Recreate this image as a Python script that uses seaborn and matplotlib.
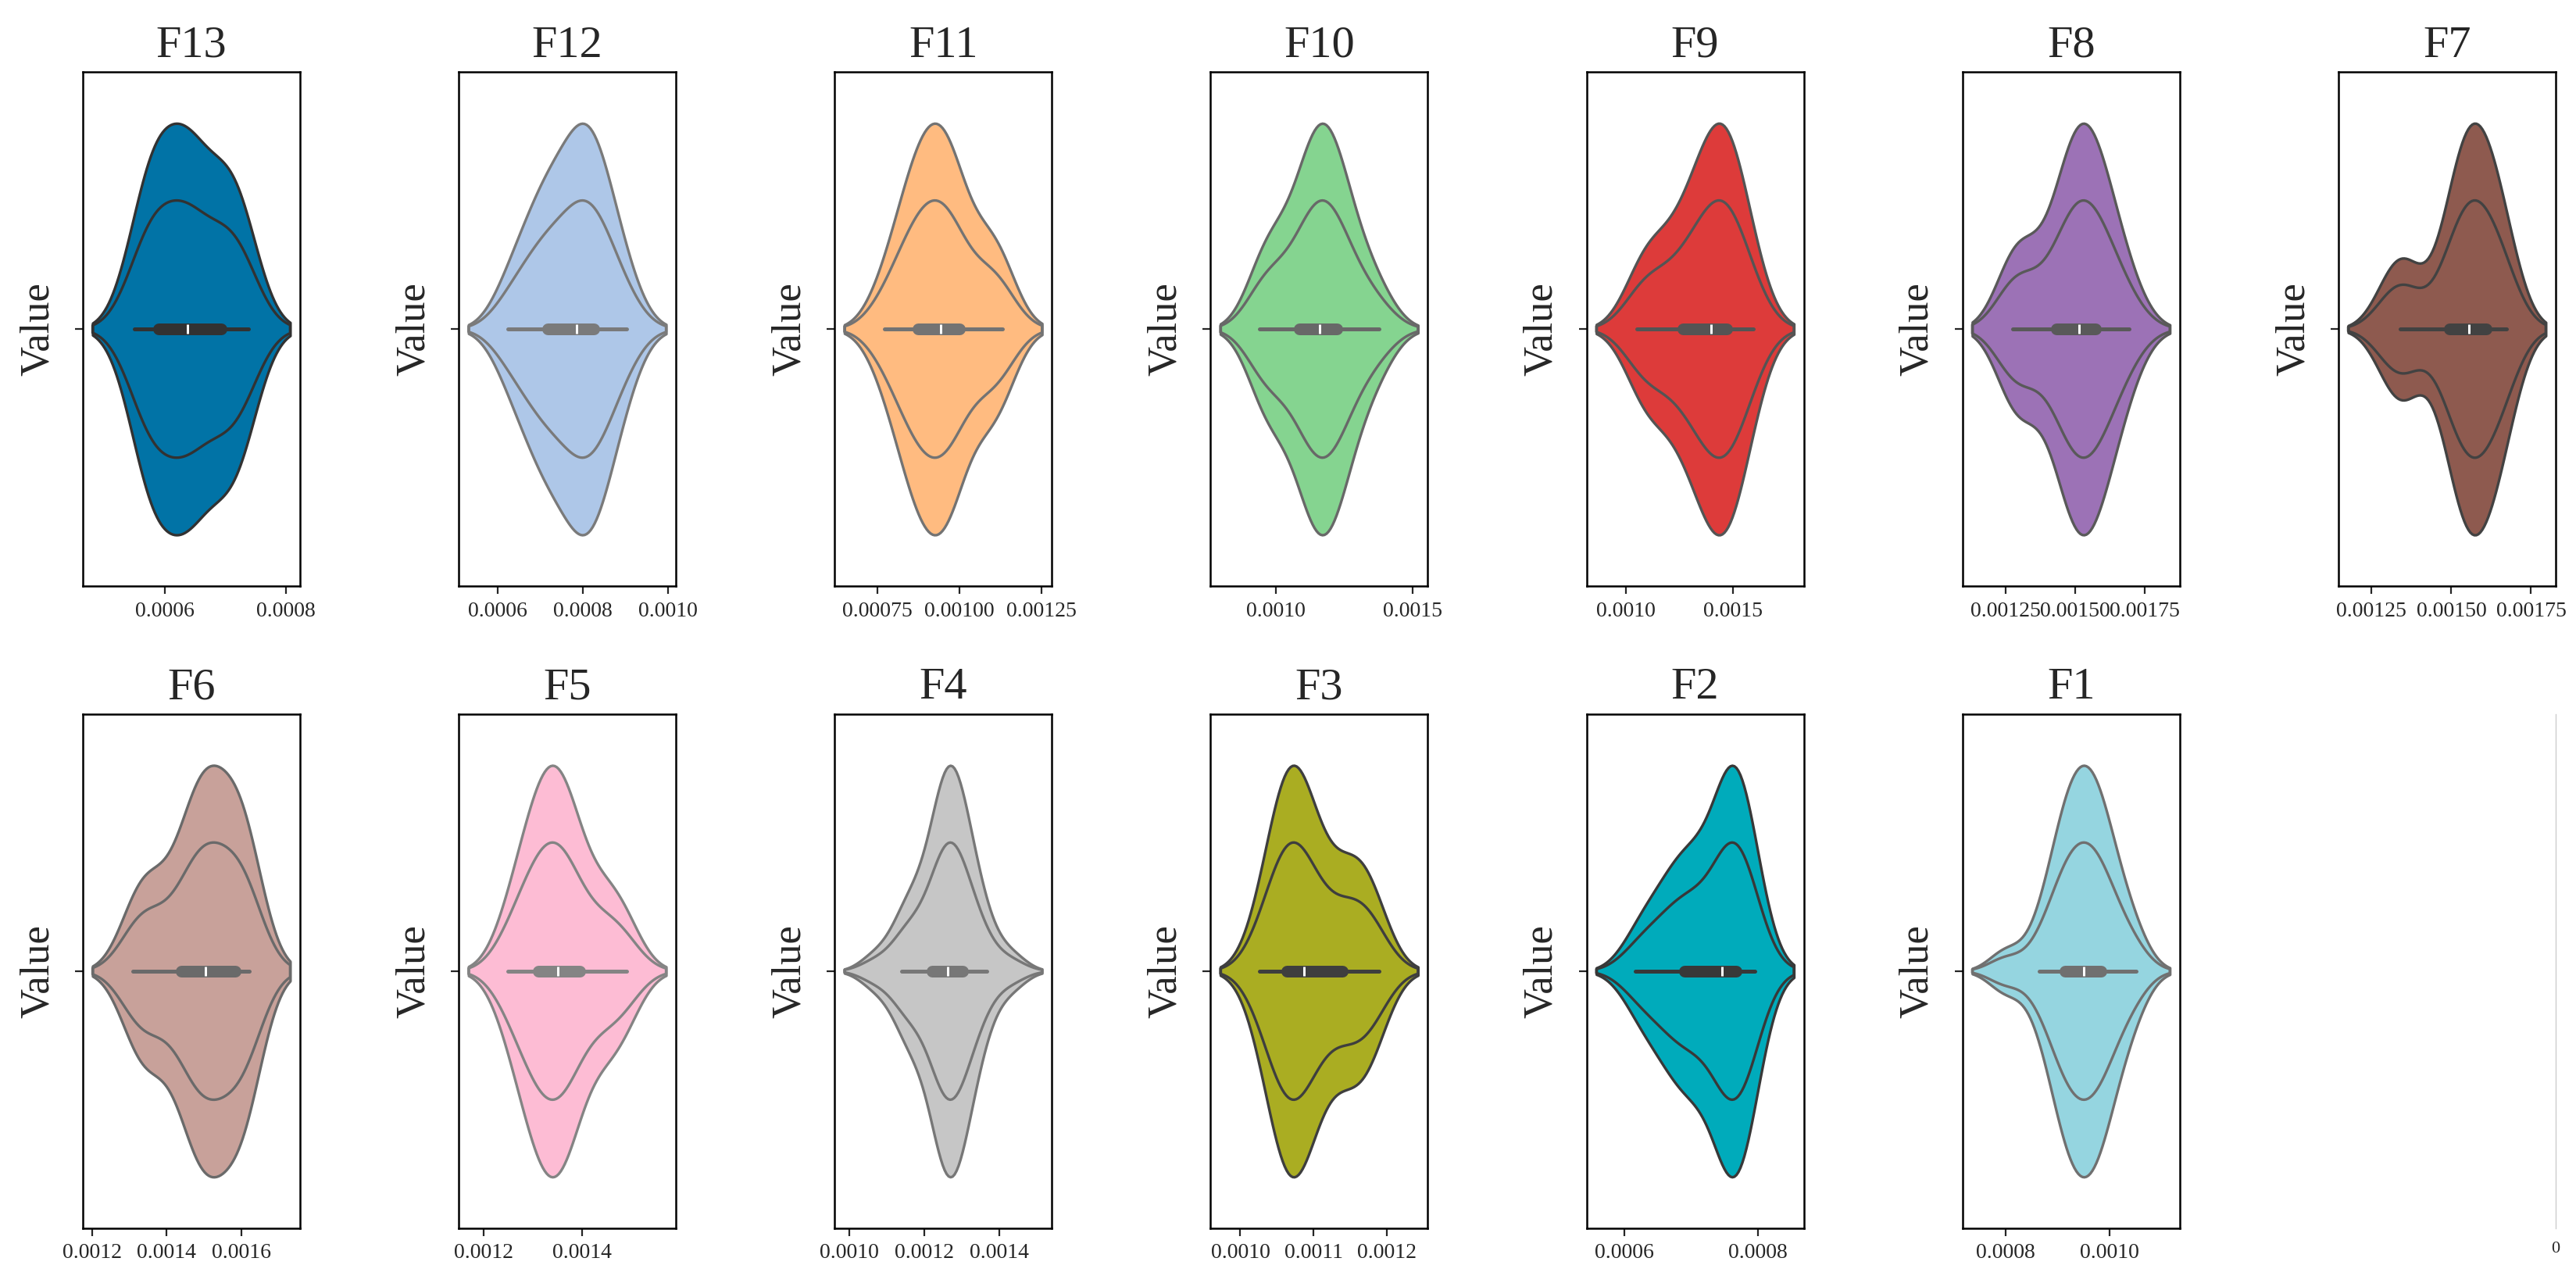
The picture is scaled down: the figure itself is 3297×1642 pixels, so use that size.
import colorsys
import matplotlib
matplotlib.use("Agg")
import matplotlib.pyplot as plt
import matplotlib.colors as mcolors
import seaborn as sns

f13 = [0.000550, 0.000572, 0.000580, 0.000586, 0.000594, 0.000622, 0.000630, 0.000638,
       0.000645, 0.000660, 0.000685, 0.000700, 0.000712, 0.000722, 0.000738]
f12 = [0.000623, 0.000660, 0.000690, 0.000712, 0.000722, 0.000745, 0.000768, 0.000784,
       0.000795, 0.000808, 0.000820, 0.000832, 0.000845, 0.000870, 0.000903]
f11 = [0.000771, 0.000820, 0.000850, 0.000868, 0.000880, 0.000905, 0.000925, 0.000942,
       0.000955, 0.000970, 0.000990, 0.001010, 0.001080, 0.001105, 0.001130]
f10 = [0.000940, 0.000975, 0.001000, 0.001070, 0.001105, 0.001120, 0.001145, 0.001162,
       0.001180, 0.001192, 0.001205, 0.001240, 0.001260, 0.001310, 0.001378]
f9 = [0.001050, 0.001110, 0.001150, 0.001245, 0.001285, 0.001320, 0.001360, 0.001397,
      0.001425, 0.001445, 0.001460, 0.001482, 0.001500, 0.001545, 0.001594]
f8 = [0.001276, 0.001290, 0.001310, 0.001410, 0.001458, 0.001470, 0.001495, 0.001514,
      0.001528, 0.001540, 0.001560, 0.001590, 0.001605, 0.001640, 0.001695]
f7 = [0.001300, 0.001340, 0.001352, 0.001362, 0.001485, 0.001498, 0.001515, 0.001530,
      0.001542, 0.001552, 0.001560, 0.001568, 0.001577, 0.001586, 0.001605, 0.001620,
      0.001636, 0.001652, 0.001665, 0.001673]
f6 = [0.001310, 0.001330, 0.001348, 0.001362, 0.001420, 0.001445, 0.001466, 0.001478,
      0.001488, 0.001498, 0.001510, 0.001520, 0.001532, 0.001545, 0.001580, 0.001590,
      0.001600, 0.001610, 0.001618, 0.001622]
f5 = [0.001249, 0.001275, 0.001295, 0.001305, 0.001317, 0.001332, 0.001342, 0.001350,
      0.001358, 0.001368, 0.001385, 0.001403, 0.001440, 0.001462, 0.001490]
f4 = [0.001070, 0.001140, 0.001150, 0.001160, 0.001180, 0.001210, 0.001222, 0.001232,
      0.001242, 0.001250, 0.001256, 0.001261, 0.001264, 0.001268, 0.001273, 0.001278,
      0.001284, 0.001292, 0.001302, 0.001310, 0.001318, 0.001332, 0.001350, 0.001368,
      0.001432]
f3 = [0.001026, 0.001040, 0.001050, 0.001056, 0.001060, 0.001065, 0.001070, 0.001074,
      0.001078, 0.001083, 0.001090, 0.001098, 0.001108, 0.001120, 0.001135, 0.001150,
      0.001158, 0.001166, 0.001176, 0.001189]
f2 = [0.000616, 0.000636, 0.000655, 0.000672, 0.000685, 0.000692, 0.000700, 0.000712,
      0.000728, 0.000740, 0.000752, 0.000756, 0.000760, 0.000763, 0.000766, 0.000770,
      0.000775, 0.000781, 0.000788, 0.000796]
f1 = [0.000800, 0.000864, 0.000885, 0.000900, 0.000910, 0.000916, 0.000922, 0.000930,
      0.000938, 0.000945, 0.000955, 0.000960, 0.000965, 0.000972, 0.000982, 0.000988,
      0.000996, 0.001010, 0.001028, 0.001051]

features = ["F13", "F12", "F11", "F10", "F9", "F8", "F7",
            "F6", "F5", "F4", "F3", "F2", "F1"]
values = [f13, f12, f11, f10, f9, f8, f7, f6, f5, f4, f3, f2, f1]
colors = ["#0173a6", "#aec7e8", "#ffbb80", "#85d490", "#dd3b3a", "#9c72b6", "#8e5a4f",
          "#c8a19a", "#fdbcd4", "#c6c6c6", "#aaad22", "#00abbb", "#95d5e0"]


def edge_gray(c):
    # same rule seaborn uses for its automatic line colour
    r, g, b = mcolors.to_rgb(c)
    lum = colorsys.rgb_to_hls(r, g, b)[1] * 0.6
    return (lum, lum, lum)


sns.set_theme(style="ticks")
plt.rcParams["font.family"] = ["Liberation Serif", "DejaVu Serif"]
plt.rcParams["axes.linewidth"] = 0.9
plt.rcParams["axes.edgecolor"] = "black"

fig, axes = plt.subplots(2, 7, figsize=(16.49, 8.21), dpi=200)
fig.subplots_adjust(left=0.0321, right=0.9918, top=0.944, bottom=0.0426,
                    wspace=0.73, hspace=0.248)

for i, ax in enumerate(axes.flat):
    if i >= len(features):
        # empty last slot: only a faint edge and a lone tick label
        for side in ["top", "left", "bottom"]:
            ax.spines[side].set_visible(False)
        ax.spines["right"].set_color("#cccccc")
        ax.spines["right"].set_linewidth(0.5)
        ax.set_xlim(-1, 0)
        ax.set_xticks([0])
        ax.set_xticklabels(["0"])
        ax.tick_params(axis="x", length=0, labelsize=8, pad=6)
        ax.set_yticks([])
        continue

    vals = values[i]
    gray = edge_gray(colors[i])
    sns.violinplot(x=vals, ax=ax, color=colors[i], saturation=1, width=0.8,
                   inner="box", linewidth=1.2, linecolor=gray)
    sns.violinplot(x=vals, ax=ax, color=gray, saturation=1, width=0.5,
                   fill=False, inner=None, linewidth=1.2, linecolor=gray)

    ax.set_ylim(0.5, -0.5)
    ax.set_yticks([0])
    ax.set_yticklabels([""])
    ax.set_ylabel("Value", fontsize=19, labelpad=5)
    ax.set_title(features[i], fontsize=21, pad=7)
    ax.tick_params(axis="x", labelsize=10, length=3.5, width=0.8)
    ax.tick_params(axis="y", length=3.5, width=0.8)
    for s in ax.spines.values():
        s.set_visible(True)
        s.set_color("black")

fig.savefig("out.png", dpi=200, facecolor="white")
